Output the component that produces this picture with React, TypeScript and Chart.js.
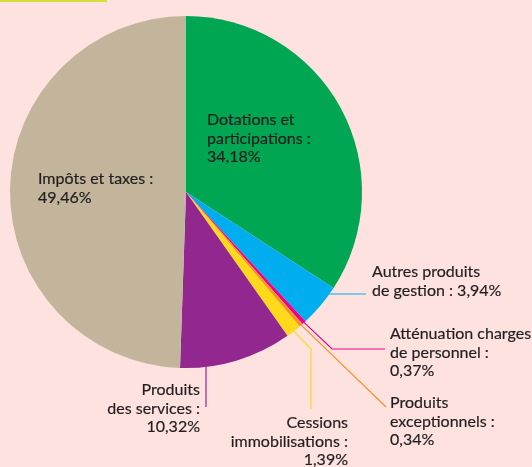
import React, { useEffect, useRef } from "react";
import { Chart, registerables } from "chart.js";

Chart.register(...registerables);

const categories = [
  "Dotations et participations",
  "Autres produits de gestion",
  "Atténuation charges de personnel",
  "Produits exceptionnels",
  "Cessions immobilisations",
  "Produits des services",
  "Impôts et taxes",
];
const values = [34.18, 3.94, 0.37, 0.34, 1.39, 10.32, 49.46];
const colors = ["#00a651", "#00aeef", "#ec008c", "#f7941d", "#ffd91a", "#92278f", "#c2b59b"];
const labelLines = [
  ["Dotations et", "participations :"],
  ["Autres produits", "de gestion :"],
  ["Atténuation charges", "de personnel :"],
  ["Produits", "exceptionnels :"],
  ["Cessions", "immobilisations :"],
  ["Produits", "des services :"],
  ["Impôts et taxes :"],
];

const fmt = (v: number) => v.toFixed(2).replace(".", ",") + "%";

// layout of labels and leader lines (pixel layout, not data)
type Layout = {
  x: number;
  y: number;
  align: CanvasTextAlign;
  inline?: boolean;
  leader?: { kind: "h"; y: number; x2: number } | { kind: "v"; x: number; y2: number } | { kind: "poly"; pts: [number, number][] };
};
const layouts: Layout[] = [
  { x: 207, y: 125, align: "left" },
  { x: 372, y: 277, align: "left", inline: true, leader: { kind: "h", y: 294, x2: 366 } },
  { x: 390, y: 339, align: "left", leader: { kind: "poly", pts: [[332, 349], [385, 349]] } },
  { x: 390, y: 408, align: "left", leader: { kind: "poly", pts: [[386, 407]] } },
  { x: 348, y: 428, align: "right", leader: { kind: "poly", pts: [[311, 349], [311, 409]] } },
  { x: 200, y: 395, align: "right", leader: { kind: "v", x: 206, y2: 407 } },
  { x: 38, y: 184, align: "left" },
];
const LINE_H = 18.5;

const labelPlugin = {
  id: "labelPlugin",
  afterDraw(chart: any) {
    const ctx = chart.ctx as CanvasRenderingContext2D;
    const meta = chart.getDatasetMeta(0);
    ctx.save();
    meta.data.forEach((arc: any, i: number) => {
      const L = layouts[i];
      const { x: cx, y: cy, outerRadius: r, startAngle, endAngle } = arc.getProps(
        ["x", "y", "outerRadius", "startAngle", "endAngle"],
        true
      );
      if (L.leader) {
        ctx.strokeStyle = colors[i];
        ctx.lineWidth = 1.2;
        ctx.beginPath();
        if (L.leader.kind === "h") {
          const dy = L.leader.y - cy;
          const sx = cx + Math.sqrt(r * r - dy * dy);
          ctx.moveTo(sx - 1, L.leader.y);
          ctx.lineTo(L.leader.x2, L.leader.y);
        } else if (L.leader.kind === "v") {
          const dx = L.leader.x - cx;
          const sy = cy + Math.sqrt(r * r - dx * dx);
          ctx.moveTo(L.leader.x, sy - 1);
          ctx.lineTo(L.leader.x, L.leader.y2);
        } else {
          const a = (startAngle + endAngle) / 2;
          ctx.moveTo(cx + (r - 2) * Math.cos(a), cy + (r - 2) * Math.sin(a));
          L.leader.pts.forEach((p) => ctx.lineTo(p[0], p[1]));
        }
        ctx.stroke();
      }
      ctx.fillStyle = "#231f20";
      ctx.strokeStyle = "#231f20";
      ctx.lineWidth = 0.2;
      ctx.font = "16px Lato, 'Open Sans', sans-serif";
      ctx.textAlign = L.align;
      ctx.textBaseline = "alphabetic";
      const lines = [...labelLines[i]];
      if (L.inline) lines[lines.length - 1] = lines[lines.length - 1] + " " + fmt(values[i]);
      else lines.push(fmt(values[i]));
      lines.forEach((t, k) => {
        ctx.fillText(t, L.x, L.y + k * LINE_H);
        ctx.strokeText(t, L.x, L.y + k * LINE_H);
      });
    });
    ctx.restore();
  },
};

export default function App() {
  const ref = useRef<HTMLCanvasElement>(null);
  useEffect(() => {
    document.body.style.margin = "0";
    const chart = new Chart(ref.current!, {
      type: "pie",
      data: {
        labels: categories,
        datasets: [
          {
            data: values,
            backgroundColor: colors,
            borderWidth: 0,
          },
        ],
      },
      options: {
        responsive: false,
        animation: false,
        layout: { padding: { left: 10, right: 170, top: 16, bottom: 99 } },
        plugins: { legend: { display: false }, tooltip: { enabled: false } },
      },
      plugins: [labelPlugin],
    });
    return () => chart.destroy();
  }, []);
  return (
    <div style={{ position: "relative", width: 532, height: 467, background: "#fde2df", overflow: "hidden" }}>
      <div style={{ position: "absolute", left: 0, top: 0, width: 107, height: 2, background: "#d6dd3c" }} />
      <canvas ref={ref} width={532} height={467} style={{ display: "block" }} />
    </div>
  );
}
